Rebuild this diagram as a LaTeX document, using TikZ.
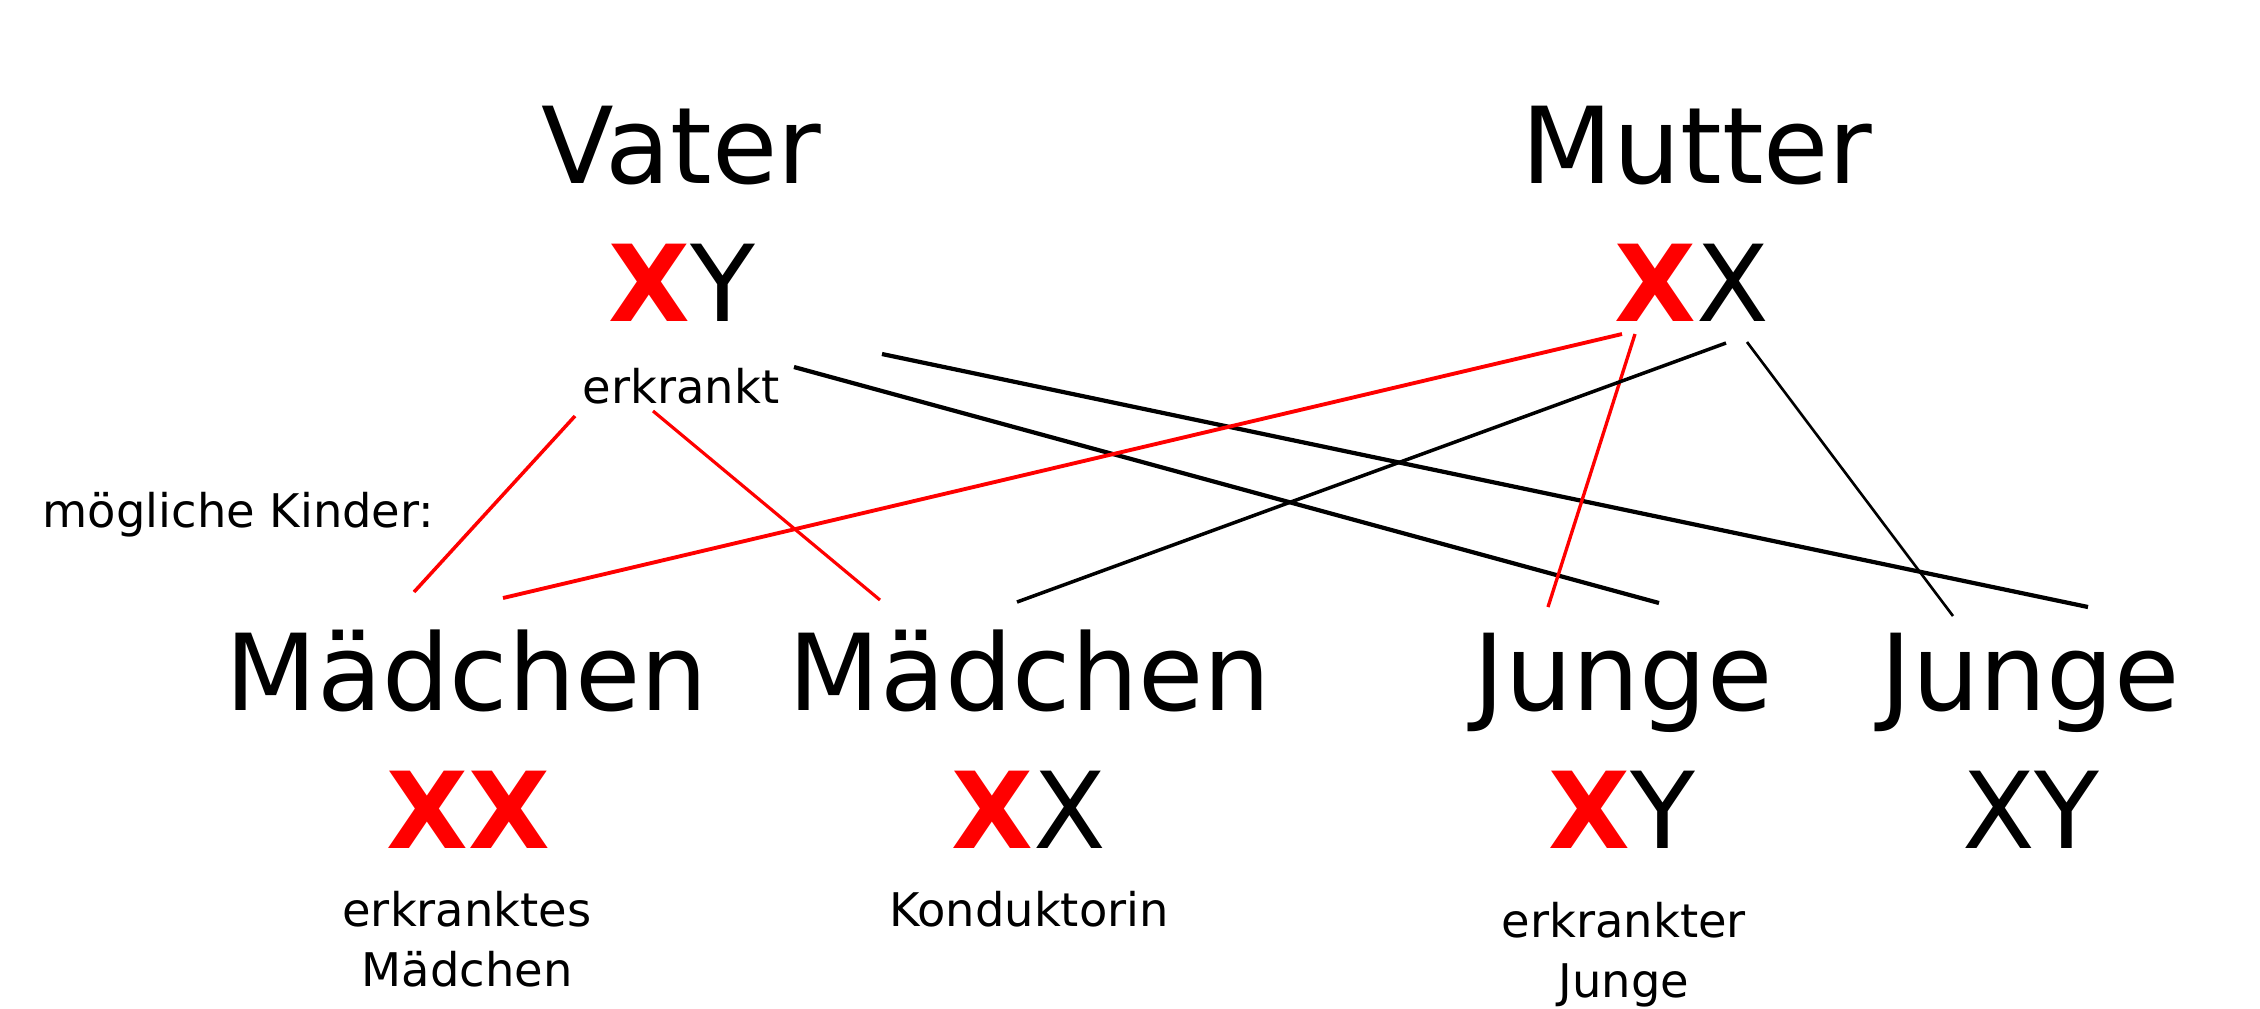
\documentclass[tikz,border=0pt]{standalone}
\usepackage{fontspec}
\setmainfont{DejaVu Sans}
\usetikzlibrary{calc}
\newcommand{\EGBigSize}{\fontsize{30.2}{35}\selectfont}
\newcommand{\EGSmallSize}{\fontsize{13.2}{17}\selectfont}
\newcommand{\EGThick}{1.2pt}
\newcommand{\EGThin}{0.75pt}
\newcommand{\EGSick}{{\bfseries\color{red}X}}
\newcommand{\EGPerson}[3]{
  \node [anchor = base, inner sep = 0pt, font = \EGBigSize] (#1) at #2 {#3};
}
\newcommand{\EGNote}[3]{
  \node [anchor = base, inner sep = 0pt, align = center, font = \EGSmallSize] (#1) at #2 {#3};
}
\newcommand{\EGLine}[5]{
  \coordinate (#1) at #2;
  \coordinate (#3) at #4;
  \draw [#5] (#1) -- (#3);
}

\begin{document}
\begin{tikzpicture}[x=0.1mm,y=-0.1mm]
\useasboundingbox (0,0) rectangle (2260,1008);

% Eltern
\EGPerson{vater}{(681,183)}{Vater}
\EGPerson{vaterGen}{(682,321)}{\EGSick Y}
\EGNote{vaterNote}{(681,403)}{erkrankt}

\EGPerson{mutter}{(1697,183)}{Mutter}
\EGPerson{mutterGen}{(1692,321)}{\EGSick X}

\node [anchor = base west, inner sep = 0pt, font = \EGSmallSize] (kinder) at (42,527) {m\"ogliche Kinder:};

% Kinder
\EGPerson{m1}{(467,710)}{M\"adchen}
\EGPerson{m1Gen}{(468,848)}{\EGSick\EGSick}
\EGNote{m1Note}{(467,986)}{erkranktes\\M\"adchen}

\EGPerson{m2}{(1030,710)}{M\"adchen}
\EGPerson{m2Gen}{(1029,848)}{\EGSick X}
\EGNote{m2Note}{(1029,926)}{Konduktorin}

\EGPerson{j1}{(1623,710)}{Junge}
\EGPerson{j1Gen}{(1622,848)}{\EGSick Y}
\EGNote{j1Note}{(1624,997)}{erkrankter\\Junge}

\EGPerson{j2}{(2030,710)}{Junge}
\EGPerson{j2Gen}{(2031,848)}{XY}

% Vererbung vom Vater
\EGLine{v1}{(575,416)}{v1m1}{(414,592)}{red, line width=1pt}
\EGLine{v2}{(653,411)}{v2m2}{(880,600)}{red, line width=0.9pt}
\EGLine{v3}{(794,367)}{v3j1}{(1659,603)}{black, line width=\EGThick}
\EGLine{v4}{(882,354)}{v4j2}{(2088,607)}{black, line width=\EGThick}

% Vererbung von der Mutter
\EGLine{u1}{(1622,334)}{u1m1}{(503,598)}{red, line width=1.1pt}
\EGLine{u2}{(1635,334)}{u2j1}{(1548,607)}{red, line width=0.95pt}
\EGLine{u3}{(1726,343)}{u3m2}{(1017,602)}{black, line width=1pt}
\EGLine{u4}{(1747,342)}{u4j2}{(1953,616)}{black, line width=\EGThin}

\end{tikzpicture}
\end{document}
